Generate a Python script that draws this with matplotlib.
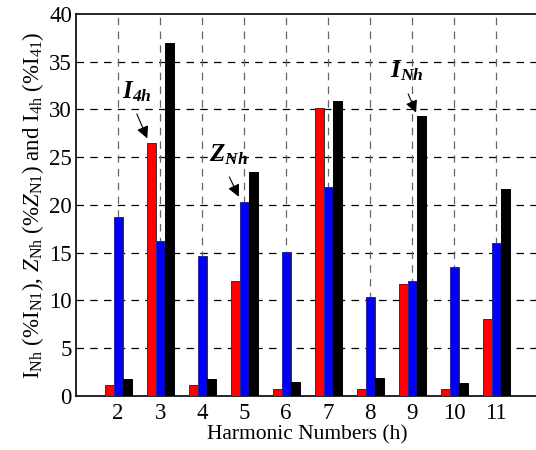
import matplotlib.pyplot as plt
import numpy as np

plt.rcParams['font.family'] = ['Liberation Serif', 'DejaVu Serif']
plt.rcParams['mathtext.fontset'] = 'custom'
plt.rcParams['mathtext.rm'] = 'Liberation Serif'
plt.rcParams['mathtext.it'] = 'Liberation Serif:italic'
plt.rcParams['mathtext.bf'] = 'Liberation Serif:bold:italic'

harmonics = [2, 3, 4, 5, 6, 7, 8, 9, 10, 11]
i4h = [1.1, 26.5, 1.1, 12.0, 0.7, 30.2, 0.7, 11.7, 0.7, 8.1]
znh = [18.7, 16.2, 14.7, 20.3, 15.1, 21.9, 10.4, 12.0, 13.5, 16.0]
inh = [1.8, 37.0, 1.8, 23.5, 1.5, 30.9, 1.9, 29.3, 1.4, 21.7]

fig = plt.figure(figsize=(5.36, 4.5), dpi=100)
ax = fig.add_axes([0.142, 0.12, 0.862, 0.849])

x = np.array(harmonics)
w = 0.215
ax.bar(x - w, i4h, w, color='red', edgecolor='#333333', linewidth=0.7, zorder=3)
ax.bar(x, znh, w, color='blue', edgecolor='#333333', linewidth=0.7, zorder=3)
ax.bar(x + w, inh, w, color='black', edgecolor='black', linewidth=0.7, zorder=3)

ax.set_xlim(1, 12)
ax.set_ylim(0, 40)
ax.set_xticks(harmonics)
ax.set_yticks(np.arange(0, 41, 5))
ax.tick_params(labelsize=16.5, length=0)
ax.tick_params(axis='y', pad=3)
ax.tick_params(axis='x', pad=5)

for yv in np.arange(5, 40, 5):
    ax.axhline(yv, color='black', linestyle=(0, (6, 5)), linewidth=0.9, zorder=1)
for xv in harmonics:
    ax.axvline(xv, color='#666666', linestyle=(0, (6, 5)), linewidth=0.9, zorder=1)

ax.spines['right'].set_visible(False)
for s in ['left', 'bottom', 'top']:
    ax.spines[s].set_linewidth(1.2)

ax.set_xlabel('Harmonic Numbers (h)', fontsize=15.5, labelpad=1)
ax.set_ylabel(r'I$_{\rm Nh}$ (%I$_{\rm N1}$), $Z_{\rm Nh}$ (%$Z_{\rm N1}$) and I$_{\rm 4h}$ (%I$_{\rm 41}$)',
              fontsize=16.5, labelpad=2)

# callouts
arrow = dict(arrowstyle='-|>', color='black', linewidth=0.8, mutation_scale=18)
ax.text(2.1, 31.2, r'$\mathbf{I_{4h}}$', fontsize=18, zorder=5)
ax.annotate('', xy=(2.72, 26.7), xytext=(2.42, 29.8), arrowprops=arrow, zorder=5)
ax.text(4.17, 24.6, r'$\mathbf{Z_{Nh}}$', fontsize=18, zorder=5)
ax.annotate('', xy=(4.9, 20.6), xytext=(4.62, 23.2), arrowprops=arrow, zorder=5)
ax.text(8.48, 33.4, r'$\mathbf{I_{Nh}}$', fontsize=18, zorder=5)
ax.annotate('', xy=(9.12, 29.4), xytext=(8.88, 31.9), arrowprops=arrow, zorder=5)

fig.savefig('out.png', dpi=100)
